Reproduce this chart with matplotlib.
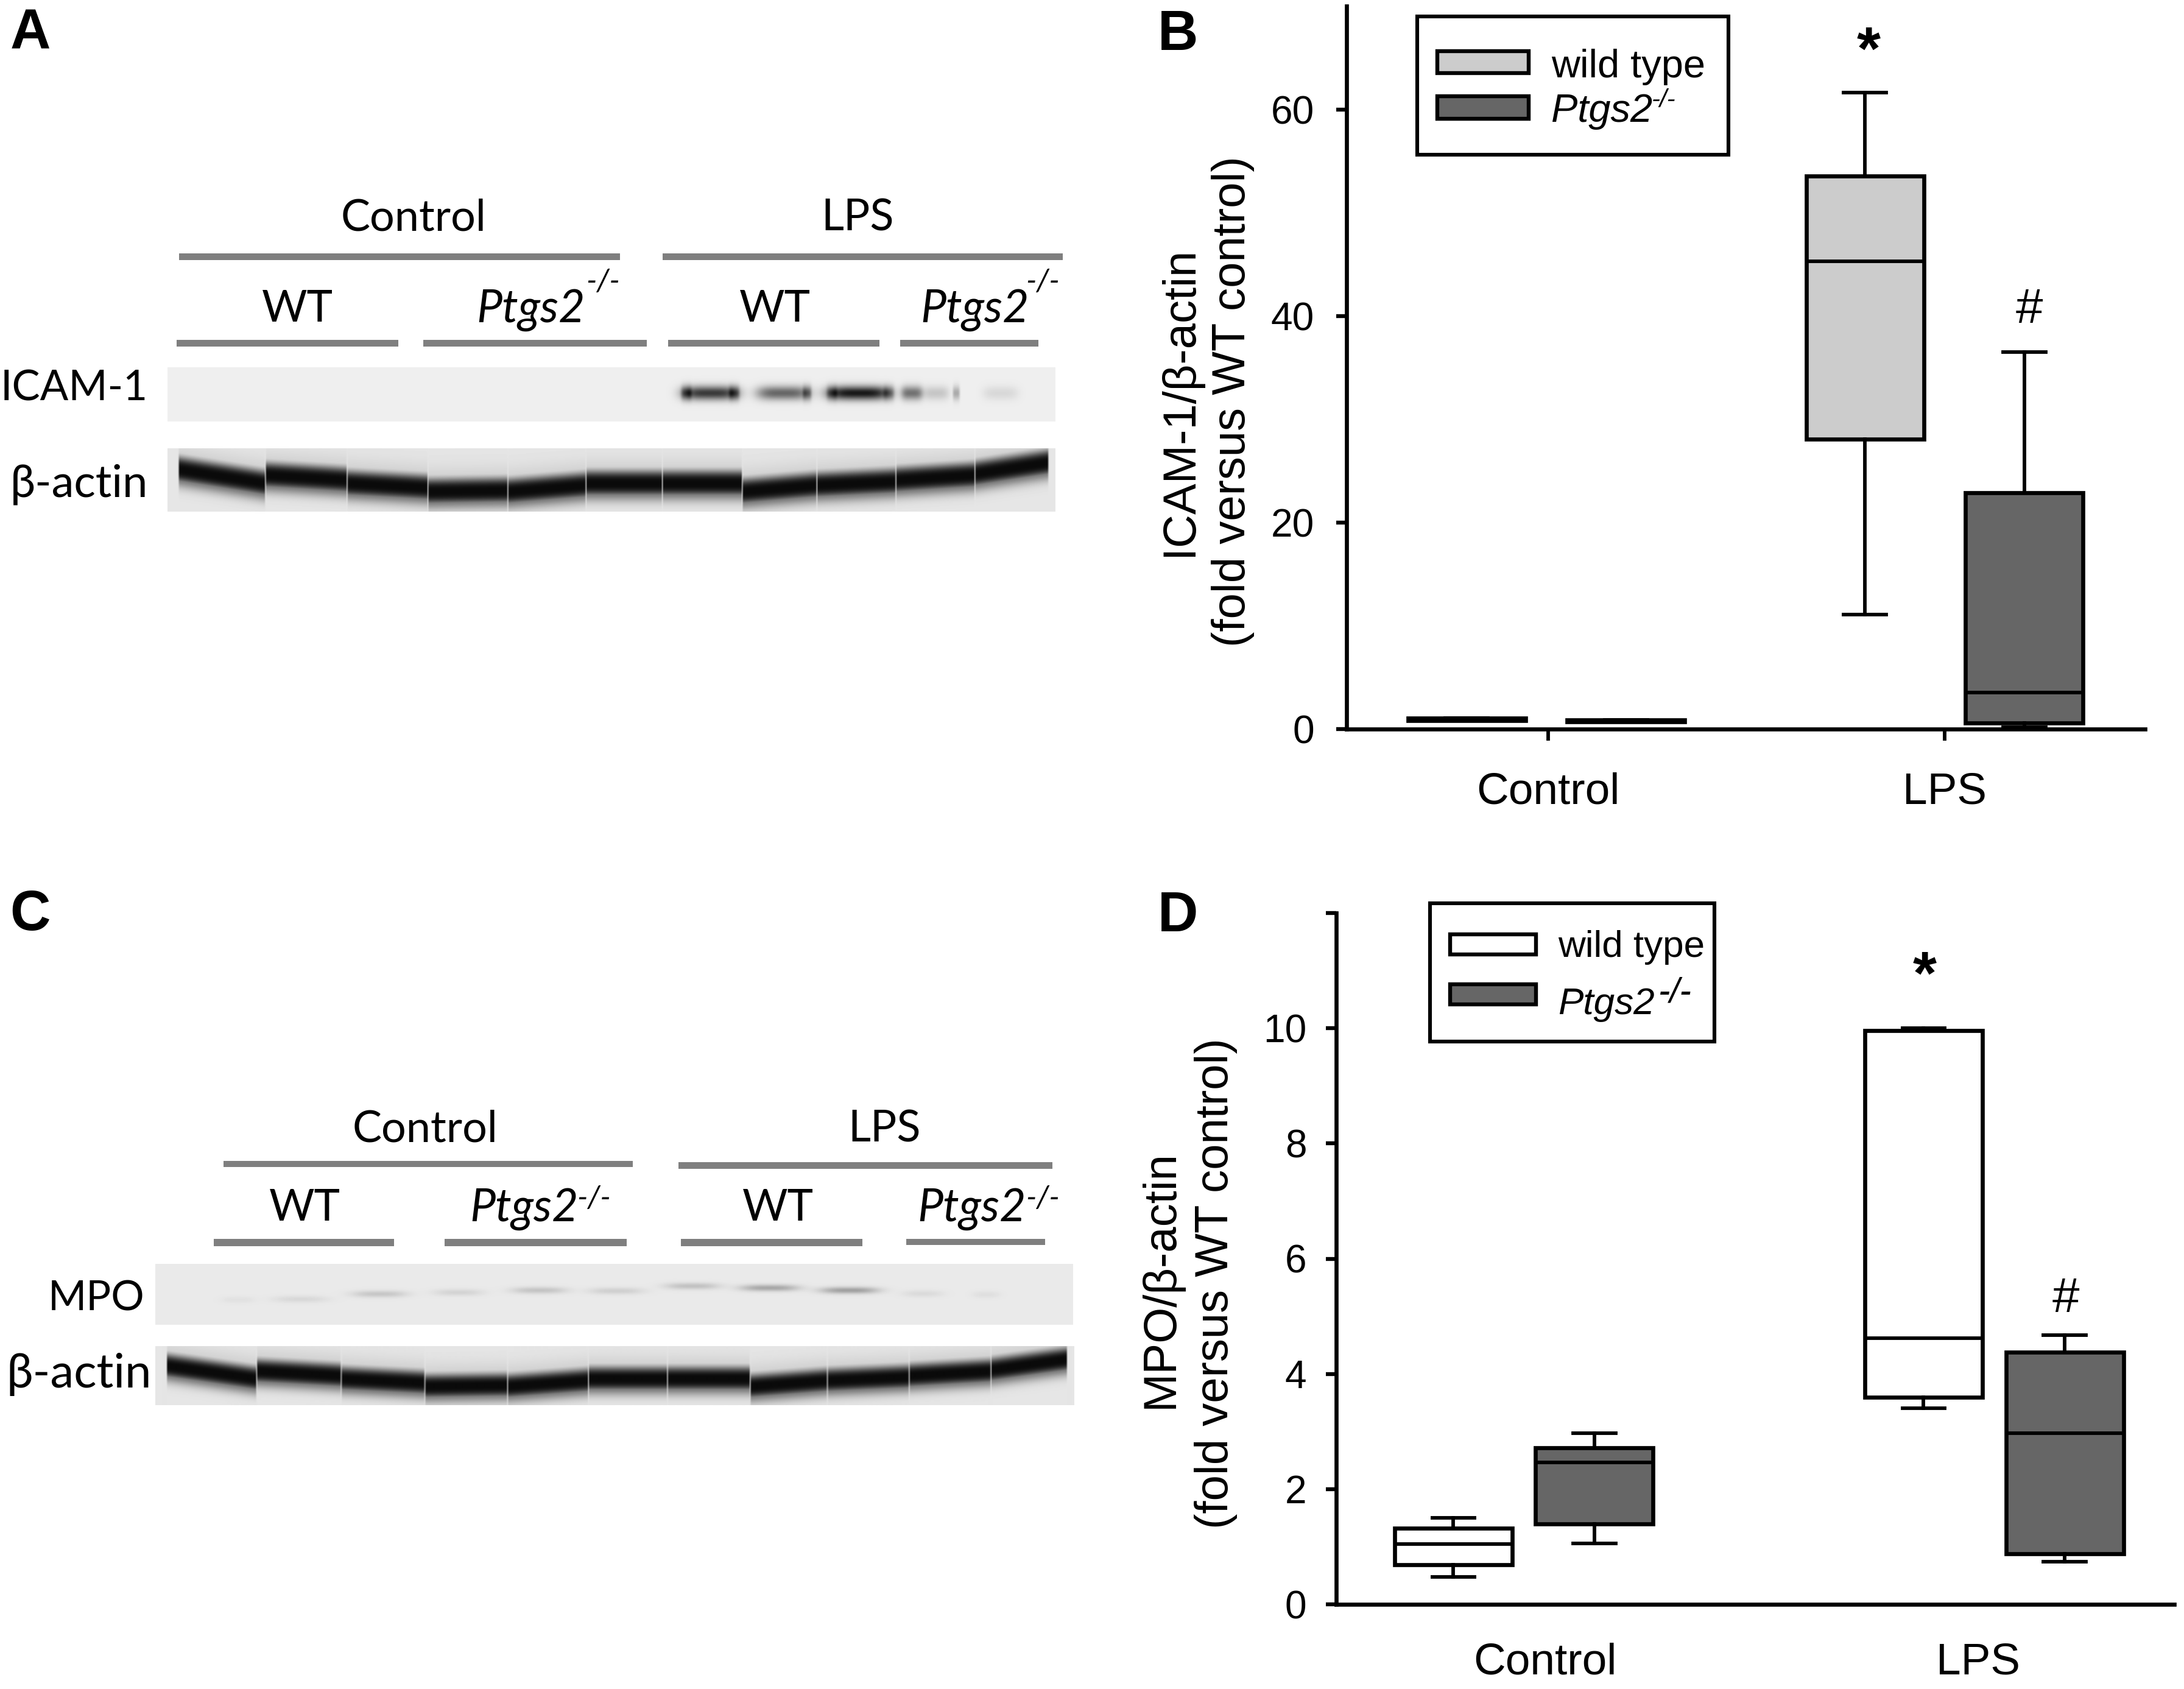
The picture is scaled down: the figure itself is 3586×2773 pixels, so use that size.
import numpy as np
import matplotlib
matplotlib.use('Agg')
import matplotlib.pyplot as plt
from matplotlib.patches import Rectangle

W, H = 3587, 2773
plt.rcParams['font.family'] = ['Liberation Sans', 'DejaVu Sans']

# ---- data: box plots ----
groups = ['Control', 'LPS']
b_med = [0.95, 0.8, 45.3, 3.55]
b_q1 = [0.85, 0.7, 28.1, 0.6]
b_q3 = [1.05, 0.9, 53.55, 22.9]
b_lo = [0.85, 0.7, 11.1, 0.2]
b_hi = [1.05, 0.9, 61.6, 36.5]
d_med = [1.05, 2.46, 4.62, 2.97]
d_q1 = [0.69, 1.40, 3.60, 0.88]
d_q3 = [1.32, 2.72, 9.96, 4.38]
d_lo = [0.48, 1.06, 3.40, 0.74]
d_hi = [1.50, 2.97, 10.0, 4.67]
b_colors = ['#cccccc', '#666666', '#cccccc', '#666666']
d_colors = ['#ffffff', '#666666', '#ffffff', '#666666']
b_yticks = [0, 20, 40, 60]
d_yticks = [0, 2, 4, 6, 8, 10, 12]
d_ylabels = ['0', '2', '4', '6', '8', '10', '']

# ---- data: blot lanes (fractions of blot width / height) ----
actin_edges = [.012, .110, .202, .293, .383, .471, .557, .647, .731, .820, .909, .992]
actin_start = [.33, .42, .55, .68, .68, .55, .55, .68, .58, .50, .40]
actin_end = [.55, .50, .62, .66, .58, .55, .55, .58, .52, .42, .22]
icam_x = [.611, .584, .638, .693, .720, .778, .748, .812, .838, .865, .888, .938]
icam_w = [.032, .006, .006, .030, .005, .036, .006, .006, .012, .015, .004, .020]
icam_d = [.80, .40, .40, .60, .40, .95, .30, .30, .55, .18, .30, .10]
mpo_x = [.090, .158, .244, .330, .418, .502, .585, .669, .756, .836, .905]
mpo_w = [.018, .030, .030, .027, .030, .030, .030, .032, .032, .022, .015]
mpo_y = [.585, .575, .49, .465, .43, .44, .36, .39, .43, .485, .50]
mpo_d = [.04, .08, .16, .10, .17, .12, .18, .30, .33, .07, .05]


def stats(lo, q1, med, q3, hi):
    return [dict(whislo=a, q1=b, med=c, q3=d, whishi=e, fliers=[])
            for a, b, c, d, e in zip(lo, q1, med, q3, hi)]


def box_axes(rect_px, st, colors, offset, width, cap, xlim, ylim, yticks, ylabels,
             xt, xpad, ypad):
    l, r, b, t = rect_px
    ax = fig.add_axes([l / W, 1 - b / H, (r - l) / W, (b - t) / H])
    pos = [1 - offset, 1 + offset, 2 - offset, 2 + offset]
    art = ax.bxp(st, positions=pos, widths=width, capwidths=cap, patch_artist=True,
                 showfliers=False, manage_ticks=False,
                 boxprops=dict(linewidth=4.8, edgecolor='black'),
                 medianprops=dict(linewidth=4.2, color='black', solid_capstyle='butt'),
                 whiskerprops=dict(linewidth=4.2, color='black'),
                 capprops=dict(linewidth=4.2, color='black'))
    for p, c in zip(art['boxes'], colors):
        p.set_facecolor(c)
    ax.set_xlim(*xlim)
    ax.set_ylim(*ylim)
    for s in ('top', 'right'):
        ax.spines[s].set_visible(False)
    for s in ('left', 'bottom'):
        ax.spines[s].set_linewidth(4.8)
    ax.set_yticks(yticks)
    ax.set_yticklabels(ylabels, fontsize=64 * .72)
    ax.set_xticks(xt)
    ax.set_xticklabels(groups, fontsize=73 * .72)
    ax.tick_params(axis='y', length=12, width=4.6, pad=ypad)
    ax.tick_params(axis='x', length=14, width=4.2, pad=xpad)
    ax.patch.set_alpha(0)
    return ax


fig = plt.figure(figsize=(W / 100, H / 100), dpi=100, facecolor='white')

axb = box_axes((2211, 3522, 1197, 10), stats(b_lo, b_q1, b_med, b_q3, b_hi), b_colors,
               .2, .295, .107, (.4985, 2.503), (0, 70), b_yticks, [str(v) for v in b_yticks],
               [1.005, 2], 37, 26)
axd = box_axes((2194, 3570, 2634, 1499), stats(d_lo, d_q1, d_med, d_q3, d_hi), d_colors,
               .15, .25, .09, (.601, 2.383), (0, 12), d_yticks, d_ylabels,
               [1.045, 1.966], 45, 23)
axd.tick_params(axis='x', length=0)

ov = fig.add_axes([0, 0, 1, 1], zorder=-1)
ov2 = fig.add_axes([0, 0, 1, 1], zorder=5)
for a in (ov, ov2):
    a.set_axis_off()
    a.patch.set_alpha(0)


def T(x, y, s, px, font='Liberation Sans', **kw):
    kw.setdefault('ha', 'center')
    kw.setdefault('va', 'center')
    ov2.text(x, y, s, fontsize=px * .72, family=font, **kw)


def actin_img(w, h, bg):
    yy, xx = np.mgrid[0:h, 0:w]
    fx, fy = xx / w, yy / h
    img = np.full((h, w), float(bg))
    for i in range(len(actin_start)):
        a, b = actin_edges[i], actin_edges[i + 1]
        t = np.clip((fx - a) / (b - a), 0, 1)
        c = actin_start[i] + (actin_end[i] - actin_start[i]) * t
        core = np.exp(-np.abs((fy - c) / .20) ** 3)
        tail = .55 * np.exp(-((fy - c - .12) / .16) ** 2)
        halo = .12 * np.exp(-((fy - c + .10) / .28) ** 2)
        band = np.maximum(np.maximum(core, tail), halo)
        mask = np.clip((fx - a) * w / 3 + .3, 0, 1) * np.clip((b - fx) * w / 3 + .3, 0, 1)
        img = np.minimum(img, bg - (bg - .04) * band * mask)
    return img


def blobs_img(w, h, bg, xs, ws, ys, ds, hh, px=2):
    yy, xx = np.mgrid[0:h, 0:w]
    fx, fy = xx / w, yy / h
    dark = np.zeros((h, w))
    for x, wd, y, d in zip(xs, ws, ys, ds):
        dark += d * np.exp(-np.abs((fx - x) / wd) ** px - ((fy - y) / hh) ** 2)
    return bg - (bg - .05) * np.clip(dark, 0, 1)


def show(img, x0, x1, y0, y1):
    ov.imshow(img, cmap='gray', vmin=0, vmax=1, extent=(x0, x1, y1, y0),
              aspect='auto', interpolation='bilinear')


show(blobs_img(1458, 89, .935, icam_x, icam_w, [.47] * len(icam_x), icam_d, .13, px=4), 275, 1733, 603, 692)
show(actin_img(1458, 104, .90), 275, 1733, 736, 840)
show(blobs_img(1507, 100, .915, mpo_x, mpo_w, mpo_y, mpo_d, .055, px=3), 255, 1762, 2075, 2175)
show(actin_img(1507, 97, .90), 255, 1764, 2210, 2307)

for a in (ov, ov2):
    a.set_xlim(0, W)
    a.set_ylim(H, 0)

# gray group bars
bars = [(294, 1018, 416, 427), (1088, 1745, 416, 427),
        (290, 654, 558, 569), (695, 1062, 558, 569), (1097, 1444, 558, 569), (1478, 1705, 558, 569),
        (367, 1039, 1906, 1916), (1114, 1728, 1908, 1919),
        (351, 647, 2034, 2046), (730, 1029, 2034, 2046), (1118, 1416, 2034, 2046), (1488, 1716, 2034, 2044)]
for x0, x1, y0, y1 in bars:
    ov.add_patch(Rectangle((x0, y0), x1 - x0, y1 - y0, color='#7f7f7f', lw=0))

# blot text
BF = 'Lato'
for x, y, s in [(679, 358, 'Control'), (1408, 358, 'LPS'), (488, 508, 'WT'), (1272, 508, 'WT'),
                (698, 1854, 'Control'), (1452, 1854, 'LPS'), (500, 1983, 'WT'), (1277, 1983, 'WT')]:
    T(x, y, s, 72, BF)
for x, y, sx, sy in [(872, 509, 990, 463), (1601, 509, 1712, 463),
                     (861, 1985, 975, 1968), (1596, 1985, 1712, 1968)]:
    T(x, y, 'Ptgs2', 75, BF, style='italic')
    T(sx, sy, '-/-', 50, BF, style='italic')
T(243, 638, 'ICAM-1', 69, BF, ha='right')
T(243, 795, 'β-actin', 74, BF, ha='right')
T(238, 2132, 'MPO', 68, BF, ha='right')
T(249, 2257, 'β-actin', 78, BF, ha='right')

# panel letters
for x, y, s in [(50, 55, 'A'), (1934, 58, 'B'), (50, 1503, 'C'), (1934, 1505, 'D')]:
    T(x, y, s, 92, weight='bold')

# y axis titles
T(1938, 659, 'ICAM-1/β-actin', 76, rotation=90)
T(2025, 659, '(fold versus WT control)', 76, rotation=90)
T(1906, 2100, 'MPO/β-actin', 76, rotation=90)
T(1997, 2107, '(fold versus WT control)', 76, rotation=90)

# significance marks
T(3068, 88, '*', 100, weight='bold')
T(3332, 510, '#', 80)
T(3160, 1606, '*', 100, weight='bold')
T(3392, 2134, '#', 80)

# legends
for (x0, x1, y0, y1) in [(2327, 2838, 27, 254), (2348, 2815, 1483, 1710)]:
    ov2.add_patch(Rectangle((x0, y0), x1 - x0, y1 - y0, fc='white', ec='black', lw=4.4))
for (x0, x1, y0, y1, c) in [(2360, 2510, 84, 120, '#cccccc'), (2360, 2510, 158, 195, '#666666'),
                            (2381, 2522, 1534, 1567, '#ffffff'), (2381, 2522, 1616, 1649, '#666666')]:
    ov2.add_patch(Rectangle((x0, y0), x1 - x0, y1 - y0, fc=c, ec='black', lw=4.6, zorder=3))
T(2547, 110, 'wild type', 65, ha='left')
T(2547, 183, 'Ptgs2', 65, ha='left', style='italic')
T(2712, 165, '-/-', 42, ha='left', style='italic')
T(2558, 1555, 'wild type', 62, ha='left')
T(2558, 1650, 'Ptgs2', 62, ha='left', style='italic')
T(2722, 1630, '-/-', 58, ha='left', style='italic')

fig.savefig('out.png', dpi=100, facecolor='white')
